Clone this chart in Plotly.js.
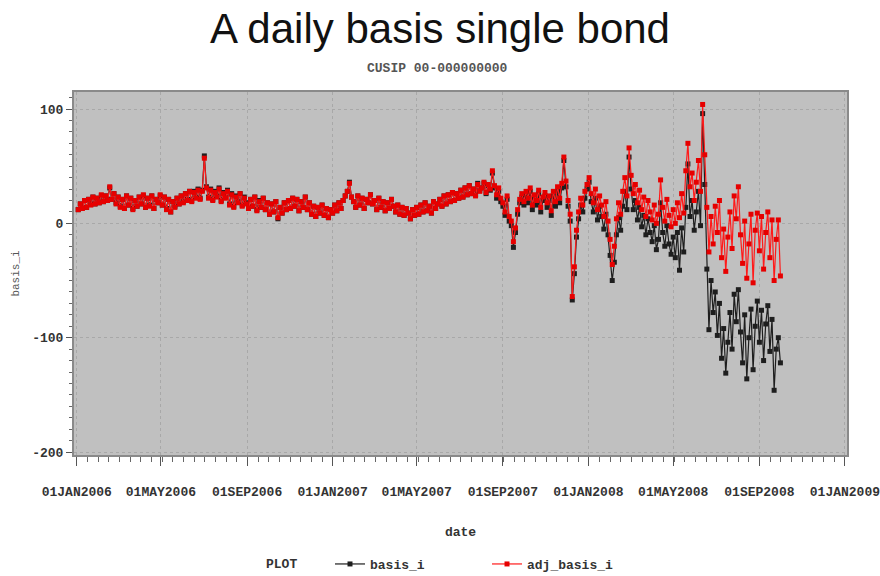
<!DOCTYPE html>
<html>
<head>
<meta charset="utf-8">
<script src="https://cdn.plot.ly/plotly-3.0.1.min.js"></script>
<style>
  html, body { margin: 0; padding: 0; background: #fff; }
  #chart { width: 880px; height: 576px; }
</style>
</head>
<body>
<div id="chart"></div>
<script>
// Observations are spaced three calendar days apart, starting 03JAN2006.
const startDate = '2006-01-03';
const stepDays = 3;

// basis_i (black series), one row per month
const basisI = [
  12, 17, 14, 20, 14, 21, 17, 23, 17, 22,            // Jan 2006
  18, 24, 19, 24, 21, 31, 21, 26, 18,                // Feb
  23, 15, 21, 13, 24, 16, 22, 13, 20, 15, 23,        // Mar
  17, 24, 14, 22, 16, 24, 13, 21, 18, 24,            // Apr
  16, 23, 13, 21, 10, 19, 15, 22, 17, 24,            // May
  19, 26, 21, 28, 20, 28, 23, 30, 22, 29,            // Jun
  59, 32, 23, 30, 21, 28, 24, 31, 20, 27,            // Jul
  23, 29, 17, 26, 15, 24, 19, 26, 16, 23, 18,        // Aug
  14, 21, 15, 23, 12, 20, 14, 22, 12, 18,            // Sep
  8, 17, 10, 19, 4, 14, 9, 18, 12, 20,               // Oct
  13, 22, 15, 21, 11, 19, 14, 23, 12, 18,            // Nov
  8, 15, 6, 14, 9, 16, 7, 13, 5, 12,                 // Dec
  9, 16, 11, 18, 13, 20, 24, 28, 36, 23, 19,         // Jan 2007
  14, 24, 16, 22, 13, 21, 18, 25, 17,                // Feb
  20, 12, 22, 14, 19, 11, 18, 13, 21, 15,            // Mar
  10, 16, 8, 14, 7, 13, 9, 4, 12, 7,                 // Apr
  14, 8, 16, 10, 18, 11, 15, 9, 19, 13, 17,          // May
  21, 15, 24, 17, 25, 19, 27, 20, 26, 22,            // Jun
  29, 23, 31, 25, 33, 26, 30, 25, 35, 29,            // Jul
  31, 35, 26, 33, 29, 44, 31, 22, 28, 19,            // Aug
  15, 7, 21, 2, -2, -21, -8, 8, 18, 23,              // Sep
  16, 25, 18, 28, 12, 22, 16, 26, 10, 20, 24,        // Oct
  14, 20, 7, 24, 15, 28, 18, 31, 55, 32,             // Nov
  15, 2, -67, -44, -12, 4, 16, 10, 22, 30,           // Dec
  36, 19, 10, 22, 3, 15, 6, -5, 8, -10,              // Jan 2008
  -28, -50, -34, -10, 5, -6, 15, 28, 12, 58,         // Feb
  30, 12, 20, 3, 14, -3, 7, -10, 4, -8,              // Mar
  -16, -2, -23, -14, 18, -8, -20, -2, -18, -27,      // Apr
  -12, -30, -8, -41, -4, -25, 14, 52, 6, 20, -6,     // May
  10, 28, -2, 96, 34, -40, -93, -50, -78, -60,       // Jun
  -98, -70, -118, -92, -131, -104, -78, -110, -62, -86,   // Jul
  -58, -95, -122, -80, -136, -100, -75, -128, -90, -68,   // Aug
  -104, -76, -120, -88, -72, -112, -84, -146, -110, -100, // Sep
  -122                                                     // Oct
];

// adj_basis_i (red series), same dates
const adjBasisI = [
  12, 17, 13, 20, 14, 21, 16, 23, 17, 22,            // Jan 2006
  18, 25, 19, 24, 20, 32, 21, 26, 17,                // Feb
  23, 14, 21, 13, 24, 16, 22, 12, 20, 15, 23,        // Mar
  17, 25, 14, 22, 15, 24, 13, 21, 18, 25,            // Apr
  16, 23, 12, 21, 10, 19, 14, 22, 17, 24,            // May
  18, 26, 20, 28, 19, 27, 22, 29, 21, 28,            // Jun
  57, 31, 22, 29, 20, 27, 23, 30, 19, 26,            // Jul
  22, 28, 16, 25, 14, 23, 18, 26, 15, 22, 17,        // Aug
  13, 21, 15, 23, 11, 19, 14, 22, 12, 18,            // Sep
  8, 17, 10, 19, 5, 14, 9, 18, 12, 20,               // Oct
  13, 22, 15, 21, 11, 19, 14, 23, 12, 18,            // Nov
  8, 15, 6, 14, 9, 16, 7, 13, 5, 12,                 // Dec
  9, 16, 11, 18, 13, 20, 24, 28, 35, 23, 19,         // Jan 2007
  14, 24, 16, 22, 13, 21, 18, 25, 17,                // Feb
  20, 12, 22, 14, 19, 11, 18, 13, 21, 15,            // Mar
  10, 16, 8, 14, 7, 13, 9, 4, 12, 7,                 // Apr
  14, 8, 16, 10, 18, 11, 15, 9, 19, 13, 17,          // May
  21, 15, 24, 17, 25, 19, 27, 20, 26, 22,            // Jun
  29, 23, 31, 25, 33, 26, 30, 24, 34, 28,            // Jul
  31, 36, 27, 34, 30, 46, 33, 25, 31, 22,            // Aug
  18, 10, 24, 6, 2, -16, -4, 12, 21, 26,             // Sep
  19, 28, 22, 31, 16, 25, 20, 29, 14, 23, 27,        // Oct
  18, 24, 11, 28, 19, 32, 22, 35, 58, 37,            // Nov
  20, 8, -64, -38, -6, 10, 22, 16, 28, 34,           // Dec
  40, 26, 18, 30, 12, 24, 16, 6, 19, 2,              // Jan 2008
  -14, -36, -20, 4, 18, 8, 28, 40, 24, 66,           // Feb
  42, 26, 34, 18, 29, 12, 23, 6, 20, 10,             // Mar
  3, 16, 0, 8, 38, 14, 2, 21, 7, -3,                 // Apr
  12, 0, 18, 5, 26, 9, 46, 70, 32, 44, 20,           // May
  36, 55, 28, 104, 60, 14, -25, 6, -18, 15,          // Jun
  -8, 20, -30, -5, -42, -12, 10, -22, 24, 4,         // Jul
  32, -10, -35, 2, -48, -18, 8, -52, -6, 9,          // Aug
  -24, 6, -40, -8, 10, -30, 3, -50, -14, 3,          // Sep
  -46                                                 // Oct
];

// Axis ticks
const xTickDates = ['2006-01-01', '2006-05-01', '2006-09-01', '2007-01-01', '2007-05-01',
                    '2007-09-01', '2008-01-01', '2008-05-01', '2008-09-01', '2009-01-01'];
const xTickLabels = ['01JAN2006', '01MAY2006', '01SEP2006', '01JAN2007', '01MAY2007',
                     '01SEP2007', '01JAN2008', '01MAY2008', '01SEP2008', '01JAN2009'];
const yTickValues = [100, 0, -100, -200];
const yTickLabels = ['100', '0', '-100', '-200'];

const DAY_MS = 86400000;
const monoFont = { family: 'Liberation Mono, DejaVu Sans Mono, monospace', size: 13, color: '#333', weight: 'bold' };

const traces = [
  {
    name: 'basis_i',
    type: 'scatter',
    mode: 'lines+markers',
    x0: startDate,
    dx: stepDays * DAY_MS,
    y: basisI,
    line: { color: '#1e1e1e', width: 1.2 },
    marker: { symbol: 'square', size: 5, color: '#1e1e1e' }
  },
  {
    name: 'adj_basis_i',
    type: 'scatter',
    mode: 'lines+markers',
    x0: startDate,
    dx: stepDays * DAY_MS,
    y: adjBasisI,
    line: { color: '#ff1a1a', width: 1.2 },
    marker: { symbol: 'square', size: 5, color: '#e60000' }
  }
];

const layout = {
  width: 880,
  height: 576,
  margin: { l: 74, r: 33, t: 92, b: 121 },
  paper_bgcolor: '#ffffff',
  plot_bgcolor: '#c0c0c0',
  showlegend: true,
  title: {
    text: 'A daily basis single bond',
    font: { family: 'Liberation Sans, Arial, sans-serif', size: 42, color: '#111' },
    x: 0.5, xref: 'container', xanchor: 'center',
    y: 1 - 28 / 576, yref: 'container', yanchor: 'middle'
  },
  annotations: [
    {
      text: 'CUSIP 00-000000000',
      xref: 'paper', yref: 'paper',
      x: (437 - 74) / 773, y: (455 - 68) / 363,
      xanchor: 'center', yanchor: 'middle',
      showarrow: false,
      font: { family: 'Liberation Mono, DejaVu Sans Mono, monospace', size: 13, color: '#555', weight: 'bold' }
    },
    {
      // legend caption, set beside the legend entries
      text: 'PLOT',
      xref: 'paper', yref: 'paper',
      x: (264 - 74) / 773, y: (455 - 564) / 363,
      xanchor: 'left', yanchor: 'middle',
      showarrow: false,
      font: monoFont
    }
  ],
  xaxis: {
    type: 'date',
    range: ['2005-12-28', '2009-01-04'],
    tickmode: 'array',
    tickvals: xTickDates,
    ticktext: xTickLabels,
    ticks: 'outside',
    ticklen: 9,
    tickwidth: 1,
    tickcolor: '#555',
    tickfont: monoFont,
    ticklabelstandoff: 14,
    ticklabeloverflow: 'allow',
    showline: true,
    linecolor: '#8a8a8a',
    linewidth: 2,
    mirror: true,
    showgrid: true,
    gridcolor: '#a8a8a8',
    griddash: 'dot',
    gridwidth: 1,
    zeroline: false,
    minor: {
      ticks: 'outside',
      ticklen: 5,
      tickcolor: '#666',
      tickmode: 'linear',
      tick0: '2006-01-01',
      dtick: 15.22 * DAY_MS,
      showgrid: false
    },
    title: { text: 'date', font: monoFont, standoff: 28 }
  },
  yaxis: {
    range: [-202.6, 114.9],
    tickmode: 'array',
    tickvals: yTickValues,
    ticktext: yTickLabels,
    ticks: 'outside',
    ticklen: 6,
    tickwidth: 1,
    tickcolor: '#555',
    tickfont: monoFont,
    showline: true,
    linecolor: '#8a8a8a',
    linewidth: 2,
    mirror: true,
    showgrid: true,
    gridcolor: '#a8a8a8',
    griddash: 'dot',
    gridwidth: 1,
    zeroline: false,
    minor: {
      ticks: 'outside',
      ticklen: 3,
      tickcolor: '#666',
      tickmode: 'linear',
      tick0: 0,
      dtick: 10,
      showgrid: false
    },
    title: { text: 'basis_i', font: { family: 'Liberation Mono, DejaVu Sans Mono, monospace', size: 11, color: '#555' }, standoff: 10 }
  },
  legend: {
    orientation: 'h',
    xref: 'container', yref: 'container',
    x: 330 / 880, xanchor: 'left',
    y: (576 - 564) / 576, yanchor: 'middle',
    entrywidth: 112, entrywidthmode: 'pixels',
    font: monoFont,
    bgcolor: 'rgba(0,0,0,0)',
    traceorder: 'normal'
  }
};

Plotly.newPlot('chart', traces, layout, { displayModeBar: false, staticPlot: true });
</script>
</body>
</html>
